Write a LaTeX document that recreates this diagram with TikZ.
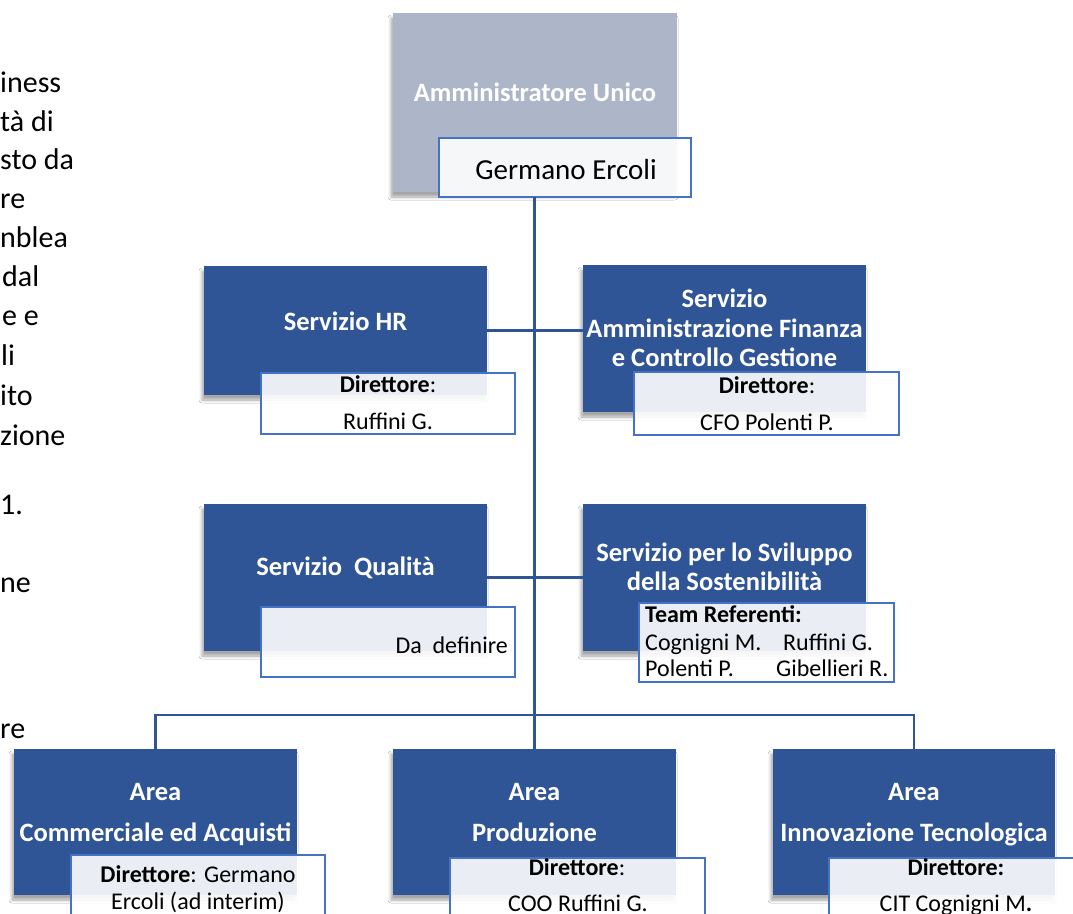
\documentclass[tikz,border=0pt]{standalone}
\usepackage{fontspec}
\setmainfont{Carlito}
\usetikzlibrary{fit,shadows.blur}
\definecolor{boxblue}{HTML}{2F5597}
\definecolor{topgray}{HTML}{ADB6C8}
\definecolor{subline}{HTML}{4472C4}
\tikzset{
  unitbox/.style={inner sep=0pt, outer sep=0pt, fill=boxblue,
    blur shadow={shadow xshift=-2pt, shadow yshift=-5pt, shadow blur radius=3pt, shadow opacity=35}},
  graybox/.style={unitbox, fill=topgray},
  subbox/.style={inner sep=0pt, outer sep=0pt, draw=subline, line width=1.3pt, fill=white, fill opacity=0.9},
  titletxt/.style={text=white, font=\bfseries\fontsize{26.5}{29.5}\selectfont, inner sep=0pt, anchor=base},
  subtxt/.style={text=black, font=\fontsize{24}{27}\selectfont, inner sep=0pt, anchor=base},
  sidetxt/.style={text=black, font=\fontsize{30}{36}\selectfont, inner sep=0pt, anchor=base west},
  conn/.style={draw=boxblue, line width=2.6pt},
}
\begin{document}
\begin{tikzpicture}[x=1pt,y=-1pt]
\useasboundingbox (0,0) rectangle (1073,913);
\fill[white] (0,0) rectangle (1073,913);

% left clipped body text
\node[sidetxt] (s1) at (0,92) {iness};
\node[sidetxt] (s2) at (0,131) {tà di};
\node[sidetxt] (s3) at (0,169) {sto da};
\node[sidetxt] (s4) at (0,208) {re};
\node[sidetxt] (s5) at (0,247) {nblea};
\node[sidetxt] (s6) at (2,286) {dal};
\node[sidetxt] (s7) at (2,325) {e e};
\node[sidetxt] (s8) at (1,365) {li};
\node[sidetxt] (s9) at (0,405) {ito};
\node[sidetxt] (s10) at (0,445) {zione};
\node[sidetxt] (s11) at (0,514) {1.};
\node[sidetxt] (s12) at (0,592) {ne};
\node[sidetxt] (s13) at (0,738) {re};

% top
\node[graybox, fit={(393,13) (677,192)}] (au) {};
\node[subbox, fit={(439,138) (691,197)}] (geb) {};
\node[titletxt] (aut) at (535,101.5) {Amministratore Unico};
\node[text=black, font=\fontsize{29}{32}\selectfont, inner sep=0pt, anchor=base] (get) at (566,179) {Germano Ercoli};

% row 1
\node[unitbox, fit={(204,266) (487,395)}] (hr) {};
\node[titletxt] (hrt) at (345.5,330.5) {Servizio HR};
\node[subbox, fit={(261,373) (515,434)}] (hrs) {};
\node[subtxt] (hrs1) at (388,392.7) {\textbf{Direttore}:};
\node[subtxt] (hrs2) at (388,429.7) {Ruffini G.};

\node[unitbox, fit={(583,265) (866,412)}] (afc) {};
\node[titletxt] (afct1) at (724.5,307.5) {Servizio};
\node[titletxt] (afct2) at (724.5,337) {Amministrazione Finanza};
\node[titletxt] (afct3) at (724.5,366.5) {e Controllo Gestione};
\node[subbox, fit={(634,372) (899,435)}] (afcs) {};
\node[subtxt] (afcs1) at (767,393.7) {\textbf{Direttore}:};
\node[subtxt] (afcs2) at (767,430.7) {CFO Polenti P.};

% row 2
\node[unitbox, fit={(204,504) (487,651)}] (qual) {};
\node[titletxt] (qualt) at (345.5,575.5) {Servizio\ \ Qualità};
\node[subbox, fit={(261,607) (515,677)}] (quals) {};
\node[subtxt, anchor=base east] (quals1) at (508,653.7) {Da\ \ definire};

\node[unitbox, fit={(583,504) (866,651)}] (sost) {};
\node[titletxt] (sostt1) at (724.5,561.5) {Servizio per lo Sviluppo};
\node[titletxt] (sostt2) at (724.5,590.5) {della Sostenibilità};
\node[subbox, fit={(639,603) (894,682)}] (sosts) {};
\node[subtxt, anchor=base west] (so1) at (645,622.5) {\textbf{Team Referenti:}};
\node[subtxt, anchor=base west] (so2) at (645,650) {Cognigni M.};
\node[subtxt, anchor=base west] (so3) at (783,650) {Ruffini G.};
\node[subtxt, anchor=base west] (so4) at (645,676) {Polenti P.};
\node[subtxt, anchor=base west] (so5) at (776,676) {Gibellieri R.};

% bottom row
\node[unitbox, fit={(14,749) (297,895)}] (com) {};
\node[titletxt] (comt1) at (155.5,800.5) {Area};
\node[titletxt] (comt2) at (155.5,841.5) {Commerciale ed Acquisti};
\node[subbox, fit={(71,855) (325,935)}] (coms) {};
\node[subtxt] (coms1) at (198,882.7) {\textbf{Direttore}: Germano};
\node[subtxt] (coms2) at (198,909.7) {Ercoli (ad interim)};

\node[unitbox, fit={(393,749) (676,895)}] (prod) {};
\node[titletxt] (prodt1) at (534.5,800.5) {Area};
\node[titletxt] (prodt2) at (534.5,841.5) {Produzione};
\node[subbox, fit={(450,858) (705,935)}] (prods) {};
\node[subtxt] (prods1) at (577,875.7) {\textbf{Direttore}:};
\node[subtxt] (prods2) at (578,911.7) {COO Ruffini G.};

\node[unitbox, fit={(773,749) (1055,895)}] (inn) {};
\node[titletxt] (innt1) at (914,800.5) {Area};
\node[titletxt] (innt2) at (914,841.5) {Innovazione Tecnologica};
\node[subbox, fit={(829,858) (1085,935)}] (inns) {};
\node[subtxt] (inns1) at (956,875.7) {\textbf{Direttore:}};
\node[subtxt] (inns2) at (956,911.7) {CIT Cognigni M\textbf{.}};

% connectors
\coordinate (bus) at (534.5,715);
\draw[conn] (geb.south -| prod.north) -- (prod.north);
\draw[conn] (com.north) |- (bus) -| (inn.north);
\draw[conn] (hr.east) -- (hr.east -| afc.west);
\draw[conn] (qual.east) -- (qual.east -| sost.west);
\end{tikzpicture}
\end{document}
